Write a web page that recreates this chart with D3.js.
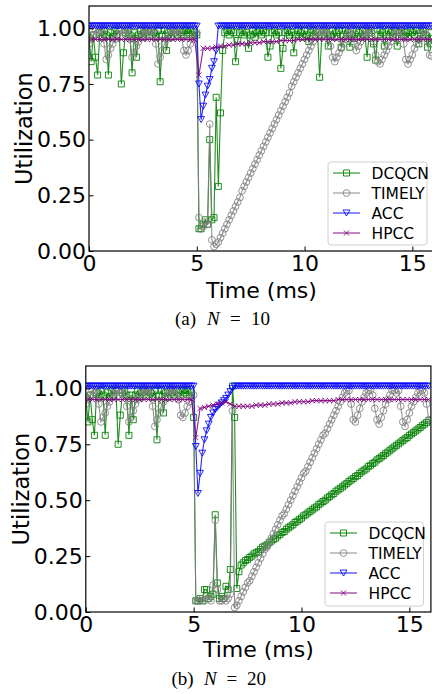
<!DOCTYPE html>
<html><head><meta charset="utf-8">
<script src="https://cdn.jsdelivr.net/npm/d3@7"></script>
<style>body{margin:0;background:#fff} svg{display:block}</style>
</head><body>
<script>
// ---------- data ----------
const seriesNames = ["DCQCN", "TIMELY", "ACC", "HPCC"];
const xTicks = [0, 5, 10, 15];
const yTicks = [0, 0.25, 0.5, 0.75, 1.0];
const xLabel = "Time (ms)";
const yLabel = "Utilization";
const captions = [["(a)", "10"], ["(b)", "20"]];
// sample grid (ms): DCQCN/TIMELY/ACC every 0.1 ms from 0, HPCC every 0.2 ms from 0.1
const STEP = 0.1, HPCC_START = 0.1, HPCC_STEP = 0.2;

// ---- (a) N = 10 ----
const dcqcnA = [
0.96,0.85,0.97,0.87,0.79,0.98,0.96,0.99,0.97,0.79,
0.98,0.96,0.99,0.97,0.99,0.75,0.89,0.98,0.99,0.97,
0.80,0.98,0.87,0.97,0.99,0.96,0.98,0.99,0.97,0.99,
0.98,0.96,0.99,0.76,0.97,0.99,0.90,0.98,0.96,0.99,
0.98,0.97,0.99,0.98,0.97,0.99,0.98,0.99,0.97,0.98,
0.97,0.10,0.10,0.12,0.14,0.12,0.50,0.14,0.15,0.69,
0.29,0.62,0.90,0.98,0.99,0.97,0.99,0.98,0.85,0.945,
0.98,0.99,0.97,0.98,0.91,0.97,0.99,0.96,0.98,0.99,
0.97,0.99,0.98,0.87,0.92,0.98,0.99,0.97,0.98,0.82,
0.91,0.98,0.99,0.97,0.98,0.89,0.97,0.99,0.98,0.96,
0.99,0.97,0.94,0.98,0.99,0.97,0.98,0.78,0.97,0.99,
0.98,0.92,0.97,0.99,0.96,0.98,0.99,0.915,0.97,0.99,
0.98,0.915,0.97,0.955,0.99,0.98,0.96,0.99,0.97,0.87,
0.98,0.99,0.93,0.857,0.97,0.99,0.98,0.92,0.97,0.99,
0.98,0.96,0.99,0.92,0.98,0.99,0.97,0.98,0.96,0.99,
0.98,0.97,0.99,0.93,0.98,0.99,0.97,0.915,0.98,0.93];
const timelyA = [
0.93,0.95,0.97,0.99,0.98,0.99,0.99,0.93,0.86,0.88,
0.91,0.93,0.95,0.97,0.99,0.99,0.98,0.99,0.99,0.95,
0.87,0.89,0.92,0.94,0.96,0.98,0.99,0.99,0.98,0.99,
0.99,0.93,0.84,0.87,0.90,0.93,0.95,0.97,0.99,0.99,
0.98,0.99,0.99,0.96,0.90,0.88,0.90,0.93,0.95,0.97,
0.98,0.15,0.10,0.11,0.13,0.12,0.57,0.05,0.02,0.03,
0.04,0.06,0.08,0.10,0.12,0.14,0.16,0.18,0.20,0.22,
0.24,0.27,0.29,0.31,0.33,0.35,0.37,0.39,0.41,0.43,
0.45,0.47,0.49,0.51,0.53,0.55,0.57,0.59,0.61,0.63,
0.65,0.67,0.69,0.71,0.74,0.76,0.78,0.80,0.82,0.84,
0.86,0.88,0.90,0.92,0.94,0.96,0.98,0.99,0.98,0.99,
0.99,0.97,0.92,0.87,0.85,0.87,0.89,0.91,0.93,0.95,
0.97,0.98,0.99,0.93,0.90,0.92,0.94,0.96,0.98,0.99,
0.99,0.98,0.94,0.88,0.85,0.84,0.86,0.88,0.90,0.92,
0.94,0.96,0.98,0.99,0.99,0.98,0.93,0.86,0.84,0.86,
0.88,0.91,0.93,0.95,0.97,0.99,0.99,0.94,0.88,0.875];
const accA = [
1.01,1.01,1.01,1.01,1.01,1.01,1.01,1.01,1.01,1.01,
1.01,1.01,1.01,1.01,1.01,1.01,1.01,1.01,1.01,1.01,
1.01,1.01,1.01,1.01,1.01,1.01,1.01,1.01,1.01,1.01,
1.01,1.01,1.01,1.01,1.01,1.01,1.01,1.01,1.01,1.01,
1.01,1.01,1.01,1.01,1.01,1.01,1.01,1.01,1.01,1.01,
1.01,0.75,0.59,0.65,0.70,0.74,0.77,0.82,0.85,0.90,
1.01,1.01,1.01,1.01,1.01,1.01,1.01,1.01,1.01,1.01,
1.01,1.01,1.01,1.01,1.01,1.01,1.01,1.01,1.01,1.01,
1.01,1.01,1.01,1.01,1.01,1.01,1.01,1.01,1.01,1.01,
1.01,1.01,1.01,1.01,1.01,1.01,1.01,1.01,1.01,1.01,
1.01,1.01,1.01,1.01,1.01,1.01,1.01,1.01,1.01,1.01,
1.01,1.01,1.01,1.01,1.01,1.01,1.01,1.01,1.01,1.01,
1.01,1.01,1.01,1.01,1.01,1.01,1.01,1.01,1.01,1.01,
1.01,1.01,1.01,1.01,1.01,1.01,1.01,1.01,1.01,1.01,
1.01,1.01,1.01,1.01,1.01,1.01,1.01,1.01,1.01,1.01,
1.01,1.01,1.01,1.01,1.01,1.01,1.01,1.01,1.01,1.01];
const hpccA = [
0.95,0.95,0.95,0.95,0.95,0.95,0.95,0.95,0.95,0.95,
0.95,0.95,0.95,0.95,0.95,0.95,0.95,0.95,0.95,0.95,
0.95,0.95,0.95,0.95,0.95,0.79,0.91,0.91,0.91,0.915,
0.92,0.92,0.925,0.925,0.93,0.93,0.93,0.935,0.935,0.935,
0.94,0.94,0.94,0.94,0.945,0.945,0.945,0.945,0.95,0.95,
0.95,0.95,0.95,0.95,0.95,0.95,0.95,0.95,0.95,0.95,
0.95,0.95,0.95,0.95,0.95,0.95,0.95,0.95,0.95,0.95,
0.95,0.95,0.95,0.95,0.95,0.95,0.95,0.95,0.95,0.95];

// ---- (b) N = 20 ----
const dcqcnB = [
0.96,0.85,0.97,0.86,0.79,0.98,0.96,0.99,0.97,0.79,
0.98,0.96,0.99,0.97,0.99,0.75,0.88,0.98,0.99,0.97,
0.79,0.97,0.86,0.97,0.99,0.96,0.98,0.99,0.97,0.99,
0.98,0.96,0.99,0.77,0.97,0.99,0.89,0.98,0.96,0.99,
0.98,0.97,0.99,0.98,0.97,0.99,0.98,0.99,0.97,0.98,
0.87,0.05,0.05,0.06,0.05,0.10,0.10,0.06,0.07,0.08,
0.435,0.13,0.06,0.07,0.06,0.115,0.10,0.19,1.01,0.87,
0.105,0.18,0.21,0.22,0.23,0.235,0.244,0.25,0.26,0.265,
0.27,0.28,0.29,0.295,0.30,0.31,0.317,0.325,0.33,0.34,
0.347,0.355,0.36,0.37,0.377,0.384,0.39,0.40,0.406,0.413,
0.42,0.43,0.435,0.443,0.45,0.457,0.465,0.47,0.48,0.487,
0.494,0.50,0.51,0.516,0.524,0.53,0.54,0.546,0.553,0.56,
0.568,0.575,0.583,0.59,0.597,0.605,0.61,0.62,0.627,0.634,
0.64,0.65,0.656,0.664,0.67,0.68,0.686,0.693,0.70,0.708,
0.715,0.723,0.73,0.738,0.745,0.752,0.76,0.767,0.774,0.78,
0.79,0.796,0.803,0.81,0.818,0.825,0.833,0.84,0.847,0.855];
const timelyB = [
0.93,0.95,0.97,0.99,0.98,0.99,0.93,0.85,0.87,0.89,
0.92,0.94,0.96,0.98,0.99,0.99,0.98,0.99,0.97,0.92,
0.85,0.87,0.90,0.93,0.95,0.97,0.99,0.99,0.98,0.99,
0.99,0.92,0.83,0.86,0.89,0.92,0.94,0.96,0.98,0.99,
0.99,0.98,0.99,0.95,0.88,0.87,0.89,0.92,0.94,0.96,
0.97,0.05,0.05,0.05,0.06,0.05,0.07,0.06,0.05,0.12,
0.41,0.10,0.05,0.05,0.06,0.05,0.06,0.08,0.90,0.02,
0.03,0.05,0.07,0.09,0.11,0.13,0.14,0.16,0.18,0.20,
0.22,0.24,0.26,0.28,0.29,0.31,0.33,0.35,0.37,0.39,
0.41,0.43,0.44,0.46,0.48,0.50,0.52,0.54,0.56,0.58,
0.60,0.62,0.63,0.65,0.67,0.69,0.71,0.73,0.75,0.77,
0.79,0.80,0.82,0.84,0.86,0.88,0.90,0.92,0.94,0.96,
0.98,0.99,0.99,0.93,0.86,0.85,0.88,0.91,0.94,0.96,
0.98,0.99,0.99,0.97,0.91,0.86,0.84,0.87,0.90,0.93,
0.95,0.97,0.99,0.99,0.98,0.99,0.92,0.85,0.83,0.86,
0.89,0.92,0.94,0.96,0.98,0.99,0.99,0.98,0.93,0.86];
const accB = [
1.01,1.01,1.01,1.01,1.01,1.01,1.01,1.01,1.01,1.01,
1.01,1.01,1.01,1.01,1.01,1.01,1.01,1.01,1.01,1.01,
1.01,1.01,1.01,1.01,1.01,1.01,1.01,1.01,1.01,1.01,
1.01,1.01,1.01,1.01,1.01,1.01,1.01,1.01,1.01,1.01,
1.01,1.01,1.01,1.01,1.01,1.01,1.01,1.01,1.01,1.01,
1.01,0.74,0.53,0.62,0.71,0.77,0.81,0.84,0.87,0.89,
0.905,0.915,0.925,0.935,0.945,0.955,0.97,0.985,1.0,1.01,
1.01,1.01,1.01,1.01,1.01,1.01,1.01,1.01,1.01,1.01,
1.01,1.01,1.01,1.01,1.01,1.01,1.01,1.01,1.01,1.01,
1.01,1.01,1.01,1.01,1.01,1.01,1.01,1.01,1.01,1.01,
1.01,1.01,1.01,1.01,1.01,1.01,1.01,1.01,1.01,1.01,
1.01,1.01,1.01,1.01,1.01,1.01,1.01,1.01,1.01,1.01,
1.01,1.01,1.01,1.01,1.01,1.01,1.01,1.01,1.01,1.01,
1.01,1.01,1.01,1.01,1.01,1.01,1.01,1.01,1.01,1.01,
1.01,1.01,1.01,1.01,1.01,1.01,1.01,1.01,1.01,1.01,
1.01,1.01,1.01,1.01,1.01,1.01,1.01,1.01,1.01,1.01];
const hpccB = [
0.95,0.95,0.95,0.95,0.95,0.95,0.95,0.95,0.95,0.95,
0.95,0.95,0.95,0.95,0.95,0.95,0.95,0.95,0.95,0.95,
0.95,0.95,0.95,0.95,0.95,0.78,0.91,0.915,0.92,0.925,
0.93,0.935,0.94,0.93,0.92,0.92,0.92,0.92,0.92,0.925,
0.925,0.925,0.93,0.93,0.93,0.935,0.935,0.935,0.94,0.94,
0.94,0.94,0.945,0.945,0.945,0.945,0.945,0.945,0.95,0.95,
0.95,0.95,0.95,0.95,0.95,0.95,0.95,0.95,0.95,0.95,
0.95,0.95,0.95,0.95,0.95,0.95,0.95,0.95,0.95,0.95];

// ---------- drawing ----------
const W = 432, H = 694;
const FONT = "'DejaVu Sans', sans-serif";
const svg = d3.select("body").append("svg").attr("width", W).attr("height", H);

const style = {
  DCQCN:  {color: "rgba(0,128,0,0.88)",   marker: "square"},
  TIMELY: {color: "rgba(128,128,128,0.85)", marker: "circle"},
  ACC:    {color: "rgba(0,0,255,0.85)",   marker: "tri"},
  HPCC:   {color: "rgba(128,0,128,0.88)", marker: "x"}
};
const markerPath = {
  square: "M-3,-3H3V3H-3Z",
  circle: "",
  tri: "M-3.4,-3L3.4,-3L0,3Z",
  x: "M-2.6,-2.6L2.6,2.6M-2.6,2.6L2.6,-2.6"
};
(function(){ const p = d3.path(); p.arc(0,0,3.4,0,2*Math.PI); markerPath.circle = p.toString(); })();

function makeSeries(vals, start, step) {
  return vals.map((v, i) => ({t: start + i * step, v}));
}

const panels = [
  {id: "a", x0: 89, x1: 433.9, y0: 6, y1: 251,
   leg: {x: 328, y: 162, w: 99, h: 83},
   data: {DCQCN: makeSeries(dcqcnA, 0, STEP), TIMELY: makeSeries(timelyA, 0, STEP),
          ACC: makeSeries(accA, 0, STEP), HPCC: makeSeries(hpccA, HPCC_START, HPCC_STEP)},
   ylabX: 31.5, xlabY: 297.5, cap: captions[0], capY: 325, capX: [175, 207, 230, 251]},
  {id: "b", x0: 85.8, x1: 430.9, y0: 366, y1: 612,
   leg: {x: 325, y: 522, w: 98.5, h: 84},
   data: {DCQCN: makeSeries(dcqcnB, 0, STEP), TIMELY: makeSeries(timelyB, 0, STEP),
          ACC: makeSeries(accB, 0, STEP), HPCC: makeSeries(hpccB, HPCC_START, HPCC_STEP)},
   ylabX: 28.5, xlabY: 657, cap: captions[1], capY: 685, capX: [171.5, 204, 226.5, 247]}
];

panels.forEach(p => {
  const x = d3.scaleLinear().domain([0, 16]).range([p.x0, p.x1]);
  const y = d3.scaleLinear().domain([0, 1.1]).range([p.y1, p.y0]);
  const g = svg.append("g");

  svg.append("clipPath").attr("id", "clip" + p.id)
    .append("rect").attr("x", p.x0).attr("y", p.y0)
    .attr("width", p.x1 - p.x0).attr("height", p.y1 - p.y0);

  const plot = g.append("g").attr("clip-path", `url(#clip${p.id})`);
  const line = d3.line().x(d => x(d.t)).y(d => y(d.v));

  seriesNames.forEach(name => {
    const s = style[name], d = p.data[name];
    const sg = plot.append("g");
    sg.append("path").datum(d).attr("d", line)
      .attr("fill", "none").attr("stroke", s.color).attr("stroke-width", 1.1);
    sg.selectAll("path.m").data(d).join("path").attr("class", "m")
      .attr("d", markerPath[s.marker])
      .attr("transform", e => `translate(${x(e.t)},${y(e.v)})`)
      .attr("fill", "none").attr("stroke", s.color).attr("stroke-width", 1);
  });

  // axes (ticks inward)
  const ax = g.append("g").attr("transform", `translate(0,${p.y1})`)
    .call(d3.axisBottom(x).tickValues(xTicks).tickFormat(d3.format("d"))
      .tickSize(-4.5).tickPadding(4));
  const ay = g.append("g").attr("transform", `translate(${p.x0},0)`)
    .call(d3.axisLeft(y).tickValues(yTicks).tickFormat(d3.format(".2f"))
      .tickSize(-4.5).tickPadding(3));
  [ax, ay].forEach(a => {
    a.select(".domain").remove();
    a.selectAll("line").attr("stroke", "#000").attr("stroke-width", 1);
    a.selectAll("text").attr("font-family", FONT).attr("font-size", 22).attr("fill", "#000");
  });

  // frame
  g.append("rect").attr("x", p.x0).attr("y", p.y0)
    .attr("width", p.x1 - p.x0).attr("height", p.y1 - p.y0)
    .attr("fill", "none").attr("stroke", "#000").attr("stroke-width", 1.2);

  // axis labels
  g.append("text").text(xLabel).attr("x", (p.x0 + p.x1) / 2).attr("y", p.xlabY)
    .attr("text-anchor", "middle").attr("font-family", FONT).attr("font-size", 22);
  g.append("text").text(yLabel)
    .attr("transform", `translate(${p.ylabX},${(p.y0 + p.y1) / 2}) rotate(-90)`)
    .attr("text-anchor", "middle").attr("font-family", FONT).attr("font-size", 22.5);

  // legend
  const L = p.leg;
  const lg = g.append("g");
  lg.append("rect").attr("x", L.x).attr("y", L.y).attr("width", L.w).attr("height", L.h)
    .attr("rx", 3).attr("fill", "rgba(255,255,255,0.85)").attr("stroke", "#d0d0d0").attr("stroke-width", 1);
  seriesNames.forEach((name, i) => {
    const s = style[name];
    const cy = L.y + 11 + i * 20;
    lg.append("line").attr("x1", L.x + 5).attr("x2", L.x + 32).attr("y1", cy).attr("y2", cy)
      .attr("stroke", s.color).attr("stroke-width", 1.1);
    lg.append("path").attr("d", markerPath[s.marker])
      .attr("transform", `translate(${L.x + 18.5},${cy})`)
      .attr("fill", "none").attr("stroke", s.color).attr("stroke-width", 1);
    lg.append("text").text(name).attr("x", L.x + 43.5).attr("y", cy)
      .attr("dy", "0.36em").attr("font-family", FONT).attr("font-size", 15.5);
  });

  // caption
  const cap = g.append("text").attr("y", p.capY)
    .attr("font-family", "'Liberation Serif', 'Times New Roman', serif").attr("font-size", 19);
  cap.append("tspan").attr("x", p.capX[0]).text(p.cap[0]);
  cap.append("tspan").attr("x", p.capX[1]).attr("font-style", "italic").text("N");
  cap.append("tspan").attr("x", p.capX[2]).text("=");
  cap.append("tspan").attr("x", p.capX[3]).text(p.cap[1]);
});
</script>
</body></html>
